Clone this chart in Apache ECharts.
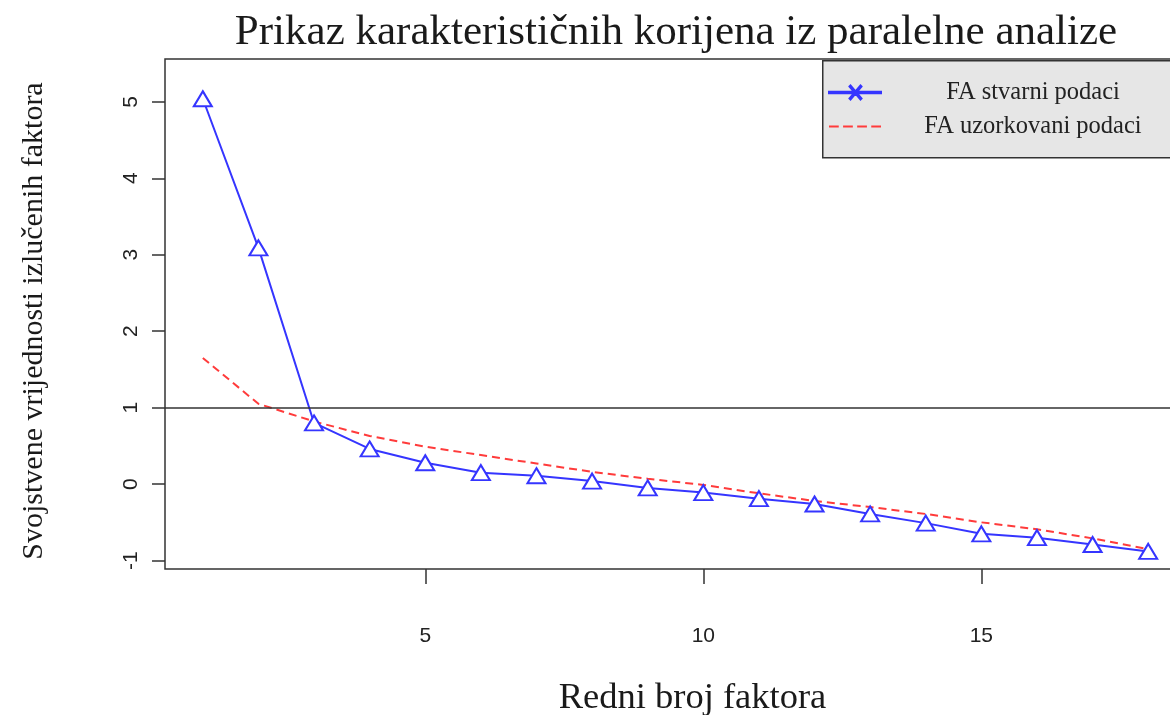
<!DOCTYPE html>
<html>
<head>
<meta charset="utf-8">
<script src="https://cdn.jsdelivr.net/npm/echarts@6/dist/echarts.min.js"></script>
<style>
  html, body { margin: 0; padding: 0; background: #fff; }
  #chart { width: 1170px; height: 715px; }
</style>
</head>
<body>
<div id="chart"></div>
<script>
// factor number on the x axis
const factors = [1, 2, 3, 4, 5, 6, 7, 8, 9, 10, 11, 12, 13, 14, 15, 16, 17, 18]
// eigenvalues of the real data (blue triangles)
const actualValues = [5.04, 3.09, 0.80, 0.46, 0.28, 0.15, 0.11, 0.04, -0.05, -0.11, -0.19, -0.26, -0.39, -0.51, -0.65, -0.70, -0.79, -0.88]
// eigenvalues of the resampled data (red dashed)
const sampledValues = [1.65, 1.05, 0.82, 0.63, 0.49, 0.38, 0.27, 0.16, 0.07, -0.01, -0.12, -0.22, -0.30, -0.39, -0.50, -0.59, -0.71, -0.85]
const xTicks = [5, 10, 15]
const yTicks = [-1, 0, 1, 2, 3, 4, 5]
const cutoff = 1

const serif = '"Liberation Serif", "DejaVu Serif", serif'
const sans = '"Liberation Sans", Arial, sans-serif'
const blue = '#3535ff'
const red = '#ff3b3b'

const pairs = (vals) => factors.map((f, i) => [f, vals[i]])

const option = {
  animation: false,
  backgroundColor: '#fff',
  title: {
    text: 'Prikaz karakterističnih korijena iz paralelne analize',
    left: 671,
    textAlign: 'center',
    top: 6,
    textStyle: { fontFamily: serif, fontSize: 43, fontWeight: 'normal', color: '#1a1a1a' }
  },
  // legend box runs past the right edge, like the cropped original
  graphic: [
    {
      type: 'rect',
      left: 822,
      top: 60,
      shape: { width: 380, height: 97 },
      style: { fill: '#e6e6e6', stroke: '#333', lineWidth: 1.5 },
      z: 5
    }
  ],
  legend: {
    orient: 'vertical',
    left: 822,
    top: 60,
    padding: [20, 0, 0, 6],
    itemGap: 9,
    itemWidth: 52,
    itemHeight: 16,
    z: 6,
    textStyle: {
      fontFamily: serif,
      fontSize: 24.5,
      color: '#222',
      rich: { c: { width: 294, lineHeight: 24, align: 'center', fontFamily: serif, fontSize: 24.5, color: '#222' } }
    },
    formatter: (name) => '{c|' + name + '}',
    data: [
      {
        name: 'FA stvarni podaci',
        icon: 'path://M0,7.25L52,7.25L52,8.75L0,8.75Z M20.5,2L21.5,1L32.5,14L31.5,15Z M31.5,1L32.5,2L21.5,15L20.5,14Z M25,6.5L27,6.5L27,9.5L25,9.5Z'
      },
      {
        name: 'FA uzorkovani podaci',
        icon: 'path://M0,0L9,0L9,2L0,2Z M13,0L22,0L22,2L13,2Z M26,0L35,0L35,2L26,2Z M39,0L48,0L48,2L39,2Z'
      }
    ]
  },
  grid: {
    left: 165,
    top: 59,
    right: -16,
    bottom: 146,
    outerBoundsMode: 'none',
    show: true,
    borderColor: '#333',
    borderWidth: 1.5,
    backgroundColor: 'transparent'
  },
  xAxis: {
    type: 'value',
    min: 0.32,
    max: 18.68,
    name: 'Redni broj faktora',
    nameLocation: 'middle',
    nameGap: 111,
    nameTextStyle: { fontFamily: serif, fontSize: 36.5, color: '#1a1a1a', padding: [0, 0, 0, 34] },
    axisLine: { show: false, onZero: false },
    splitLine: { show: false },
    axisTick: {
      show: true,
      customValues: xTicks,
      length: 15,
      lineStyle: { color: '#333', width: 1.5 }
    },
    axisLabel: {
      customValues: xTicks,
      margin: 57,
      fontFamily: sans,
      fontSize: 21,
      color: '#222'
    }
  },
  yAxis: {
    type: 'value',
    min: -1.11,
    max: 5.56,
    name: 'Svojstvene vrijednosti izlučenih faktora',
    nameLocation: 'middle',
    nameRotate: 90,
    nameGap: 116,
    nameTextStyle: { fontFamily: serif, fontSize: 30, color: '#1a1a1a', padding: [0, 14, 0, 0] },
    axisLine: { show: false, onZero: false },
    splitLine: { show: false },
    axisTick: {
      show: true,
      customValues: yTicks,
      length: 13,
      lineStyle: { color: '#333', width: 1.5 }
    },
    axisLabel: {
      customValues: yTicks,
      rotate: 90,
      margin: 23,
      fontFamily: sans,
      fontSize: 21,
      color: '#222'
    }
  },
  series: [
    {
      name: 'FA stvarni podaci',
      type: 'line',
      data: pairs(actualValues),
      symbol: 'emptyTriangle',
      symbolSize: [18, 15],
      color: blue,
      lineStyle: { color: blue, width: 2 },
      itemStyle: { color: blue, borderColor: blue, borderWidth: 2 },
      z: 3
    },
    {
      name: 'FA uzorkovani podaci',
      type: 'line',
      data: pairs(sampledValues),
      symbol: 'none',
      color: red,
      lineStyle: { color: red, width: 2, type: [8, 5] },
      z: 2,
      markLine: {
        silent: true,
        symbol: 'none',
        label: { show: false },
        lineStyle: { color: '#333', width: 1.5, type: 'solid' },
        data: [{ yAxis: cutoff }]
      }
    }
  ]
}

const chart = echarts.init(document.getElementById('chart'))
chart.setOption(option)
</script>
</body>
</html>
